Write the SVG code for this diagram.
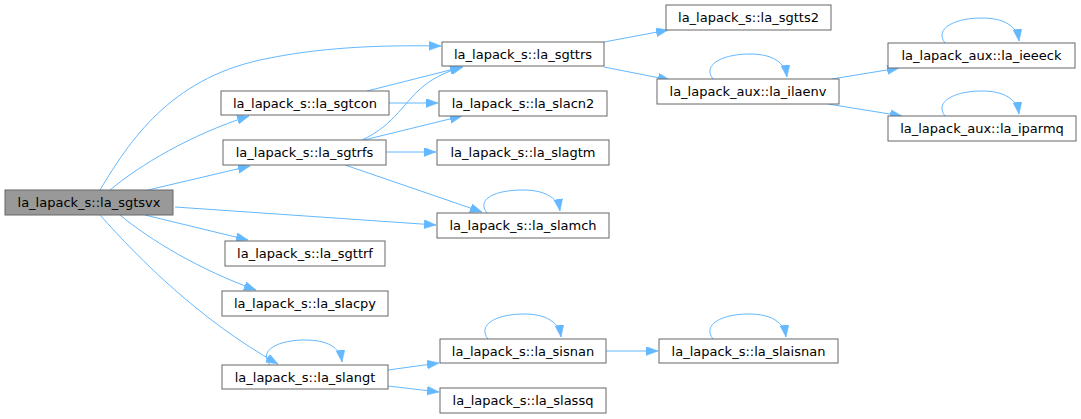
<svg xmlns="http://www.w3.org/2000/svg" width="1081" height="419" viewBox="0 0 1081 419">
<style>
.n rect{fill:#fff;stroke:#666;stroke-width:1}
.n text{font-family:"DejaVu Sans",sans-serif;font-size:13px;text-anchor:middle;fill:#000}
#sgtsvx rect{fill:#999}
.e path{fill:none;stroke:#63b8ff;stroke-width:1;marker-end:url(#ah)}
</style>
<defs>
<marker id="ah" markerUnits="userSpaceOnUse" markerWidth="13" markerHeight="10" refX="12" refY="4.5" orient="auto">
<path d="M0,0 L12,4.5 L0,9 z" fill="#63b8ff" stroke="#63b8ff" stroke-width="0.5"/>
</marker>
</defs>
<g class="e" id="connectors">
<path d="M100,190 C130,140 170,80 260,60 C320,47 380,45 441,46"/>
<path d="M110,190 C140,165 190,135 249,116"/>
<path d="M148,190 L250,166"/>
<path d="M175,207 L436,225"/>
<path d="M145,215 L248,240"/>
<path d="M120,215 C150,240 200,270 256,290"/>
<path d="M100,215 C140,260 200,320 278,364"/>
<path d="M367,91 L462,67"/>
<path d="M389,103 L438,103"/>
<path d="M362,140 C395,125 405,100 425,85 C435,77 448,71 463,67"/>
<path d="M364,140 L462,116"/>
<path d="M386,152 L436,152"/>
<path d="M345,165 L482,212"/>
<path d="M487,213 C476,199 495,190 523,190 C545,190 558,198 560,211"/>
<path d="M604,42 L668,30"/>
<path d="M604,67 L670,80"/>
<path d="M713,79 C702,65 722,54 750,54 C772,54 785,62 787,77"/>
<path d="M832,79 L899,68"/>
<path d="M828,104 L902,116"/>
<path d="M945,43 C934,29 954,18 982,18 C1004,18 1017,26 1019,41"/>
<path d="M945,116 C934,102 954,91 982,91 C1004,91 1017,99 1019,114"/>
<path d="M270,365 C258,351 277,340 305,340 C327,340 340,347 342,362"/>
<path d="M388,370 L439,363"/>
<path d="M388,386 L439,392"/>
<path d="M488,339 C477,325 496,314 524,314 C546,314 559,322 561,337"/>
<path d="M606,351 L658,351"/>
<path d="M713,339 C702,325 721,314 749,314 C771,314 784,322 786,337"/>
</g>
<g class="n" id="sgtsvx"><rect x="5" y="190" width="168" height="25"/><text x="89" y="207">la_lapack_s::la_sgtsvx</text></g>
<g class="n" id="sgtcon"><rect x="221" y="91" width="168" height="24"/><text x="305" y="108">la_lapack_s::la_sgtcon</text></g>
<g class="n" id="sgtrfs"><rect x="223" y="140" width="163" height="25"/><text x="304.5" y="157">la_lapack_s::la_sgtrfs</text></g>
<g class="n" id="sgttrs"><rect x="442" y="42" width="162" height="24"/><text x="523" y="59">la_lapack_s::la_sgttrs</text></g>
<g class="n" id="slacn2"><rect x="439" y="91" width="168" height="25"/><text x="523" y="108">la_lapack_s::la_slacn2</text></g>
<g class="n" id="slagtm"><rect x="437" y="140" width="172" height="25"/><text x="523" y="157">la_lapack_s::la_slagtm</text></g>
<g class="n" id="slamch"><rect x="437" y="213" width="172" height="25"/><text x="523" y="230">la_lapack_s::la_slamch</text></g>
<g class="n" id="sgtts2"><rect x="666" y="5" width="165" height="25"/><text x="748.5" y="22">la_lapack_s::la_sgtts2</text></g>
<g class="n" id="ilaenv"><rect x="657" y="79" width="182" height="25"/><text x="748" y="96">la_lapack_aux::la_ilaenv</text></g>
<g class="n" id="ieeeck"><rect x="888" y="43" width="187" height="25"/><text x="981.5" y="60">la_lapack_aux::la_ieeeck</text></g>
<g class="n" id="iparmq"><rect x="888" y="116" width="188" height="25"/><text x="982" y="133">la_lapack_aux::la_iparmq</text></g>
<g class="n" id="sgttrf"><rect x="225" y="241" width="160" height="25"/><text x="305" y="258">la_lapack_s::la_sgttrf</text></g>
<g class="n" id="slacpy"><rect x="222" y="291" width="166" height="25"/><text x="305" y="308">la_lapack_s::la_slacpy</text></g>
<g class="n" id="slangt"><rect x="222" y="365" width="166" height="24"/><text x="305" y="382">la_lapack_s::la_slangt</text></g>
<g class="n" id="sisnan"><rect x="440" y="339" width="166" height="24"/><text x="523" y="356">la_lapack_s::la_sisnan</text></g>
<g class="n" id="slaisnan"><rect x="659" y="339" width="179" height="24"/><text x="748.5" y="356">la_lapack_s::la_slaisnan</text></g>
<g class="n" id="slassq"><rect x="440" y="388" width="166" height="25"/><text x="523" y="405">la_lapack_s::la_slassq</text></g>
</svg>
